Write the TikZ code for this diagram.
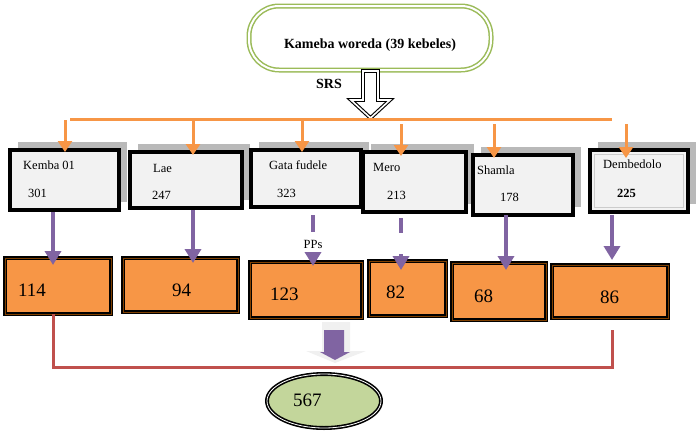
\documentclass[tikz,border=0pt]{standalone}
\usepackage{fontspec}
\setmainfont{Liberation Serif}
\usetikzlibrary{arrows.meta,shadows,shapes.geometric}
\definecolor{org}{HTML}{F79646}
\definecolor{pur}{HTML}{8064A2}
\definecolor{redl}{HTML}{C0504D}
\definecolor{grn}{HTML}{9BBB59}
\definecolor{lgrn}{HTML}{C3D69B}
\begin{document}
\begin{tikzpicture}[x=1pt,y=-1pt,
  top/.style={draw=black,line width=3.5pt,fill={rgb,255:red,242;green,242;blue,242},
    drop shadow={shadow xshift=8pt,shadow yshift=8pt,fill=gray!55,opacity=1}},
  obox/.style={draw=black,fill=org,line width=1.6pt,double=orange!50!black,double distance=1pt},
  lbl/.style={anchor=west,font=\fontsize{12.5}{14}\selectfont,inner sep=0},
  num/.style={anchor=west,font=\fontsize{19}{22}\selectfont,inner sep=0},
  oar/.style={draw=org,line width=3pt,-{Triangle[width=14pt,length=11pt]}},
  par/.style={draw=pur,line width=4pt,-{Triangle[width=16pt,length=14pt]}},
  pdash/.style={draw=pur,line width=4pt}]
\useasboundingbox (0,0) rectangle (700,434);
% top node
\draw[draw=grn,line width=1.5pt,double=white,double distance=2pt,rounded corners=30pt]
  (249,6) rectangle (491,70);
\node[font=\bfseries\fontsize{14}{16}\selectfont] (top) at (370,45) {Kameba woreda (39 kebeles)};
\node[font=\bfseries\fontsize{14}{16}\selectfont] (srs) at (329,84) {SRS};
% hollow arrow
\draw[draw=black,line width=1.1pt,double=white,double distance=1.6pt,fill=white,line join=miter]
  (363,71) -- (378,71) -- (378,100) -- (390,100) -- (370.5,118) -- (351,100) -- (363,100) -- cycle;
% orange bus
\coordinate (bl) at (70,119); \coordinate (br) at (612,119);
\draw[org,line width=3pt] (bl) -- (br);
% top boxes
\path[top] (10,150) rectangle (119,210);
\path[top] (130,152) rectangle (242,208);
\path[top] (251,150) rectangle (361,207);
\path[top] (363,152) rectangle (466,212);
\path[top] (473,155) rectangle (573,215);
\path[top] (590,150) rectangle (688,212);
\draw[gray!40,line width=1pt] (594.5,154.5) rectangle (683.5,207.5);
\node[lbl] (t1) at (23,165) {Kemba 01}; \node[lbl] (n1) at (28,193) {301};
\node[lbl] (t2) at (153,168) {Lae}; \node[lbl] (n2) at (152,195) {247};
\node[lbl] (t3) at (269,165) {Gata fudele}; \node[lbl] (n3) at (277,193) {323};
\node[lbl] (t4) at (373,167) {Mero}; \node[lbl] (n4) at (387,195) {213};
\node[lbl] (t5) at (477,170) {Shamla}; \node[lbl] (n5) at (500,197) {178};
\node[lbl] (t6) at (603,164) {Dembedolo}; \node[lbl,font=\bfseries\fontsize{12.5}{14}\selectfont] (n6) at (617,193) {225};
% orange arrows
\foreach \x/\y/\e in {65/120/152,193/121/155,302/121/152,401/124/156,494/124/158,626/124/158}
  \draw[oar] (\x,\y) -- (\x,\e);
% orange boxes
\draw[obox] (5,258) rectangle (111,314);
\draw[obox] (123,258) rectangle (238,312);
\draw[obox] (250,262) rectangle (362,318);
\draw[obox] (369,261) rectangle (446,316);
\draw[obox] (452,263) rectangle (546,320);
\draw[obox] (552,265) rectangle (668,318);
\node[num] (b1) at (18,290) {114};
\node[num] (b2) at (172,290) {94};
\node[num] (b3) at (270,294) {123};
\node[num] (b4) at (386,292) {82};
\node[num] (b5) at (474,296) {68};
\node[num] (b6) at (600,297) {86};
% purple arrows
\draw[par] (53,212) -- (53,265);
\draw[par] (193,210) -- (193,263);
\draw[pdash] (313,215) -- (313,232);
\node[lbl,anchor=center] (pps) at (313,244) {PPs};
\draw[par] (313,252) -- (313,266);
\draw[pdash] (401,218) -- (401,233);
\draw[par] (401,254) -- (401,270);
\draw[par] (506,215) -- (506,270);
\draw[par] (612,215) -- (612,260);
% red connector
\draw[redl,line width=3pt] (53,314) -- (53,367) -- (612,367) -- (612,330);
% block arrow
\fill[gray!12] (322,322) -- (350,322) -- (350,351) -- (366,351) -- (335,363) -- (306,351) -- (322,351) -- cycle;
\fill[pur] (324,330) -- (344,330) -- (344,352) -- (350,352) -- (335,360) -- (320,352) -- (324,352) -- cycle;
% ellipse
\node[ellipse,draw=black,line width=1.6pt,double=white,double distance=0.8pt,fill=lgrn,
  minimum width=114pt,minimum height=54pt] (tot) at (324,401) {};
\node[num] (tv) at (293,400) {567};
\end{tikzpicture}
\end{document}
